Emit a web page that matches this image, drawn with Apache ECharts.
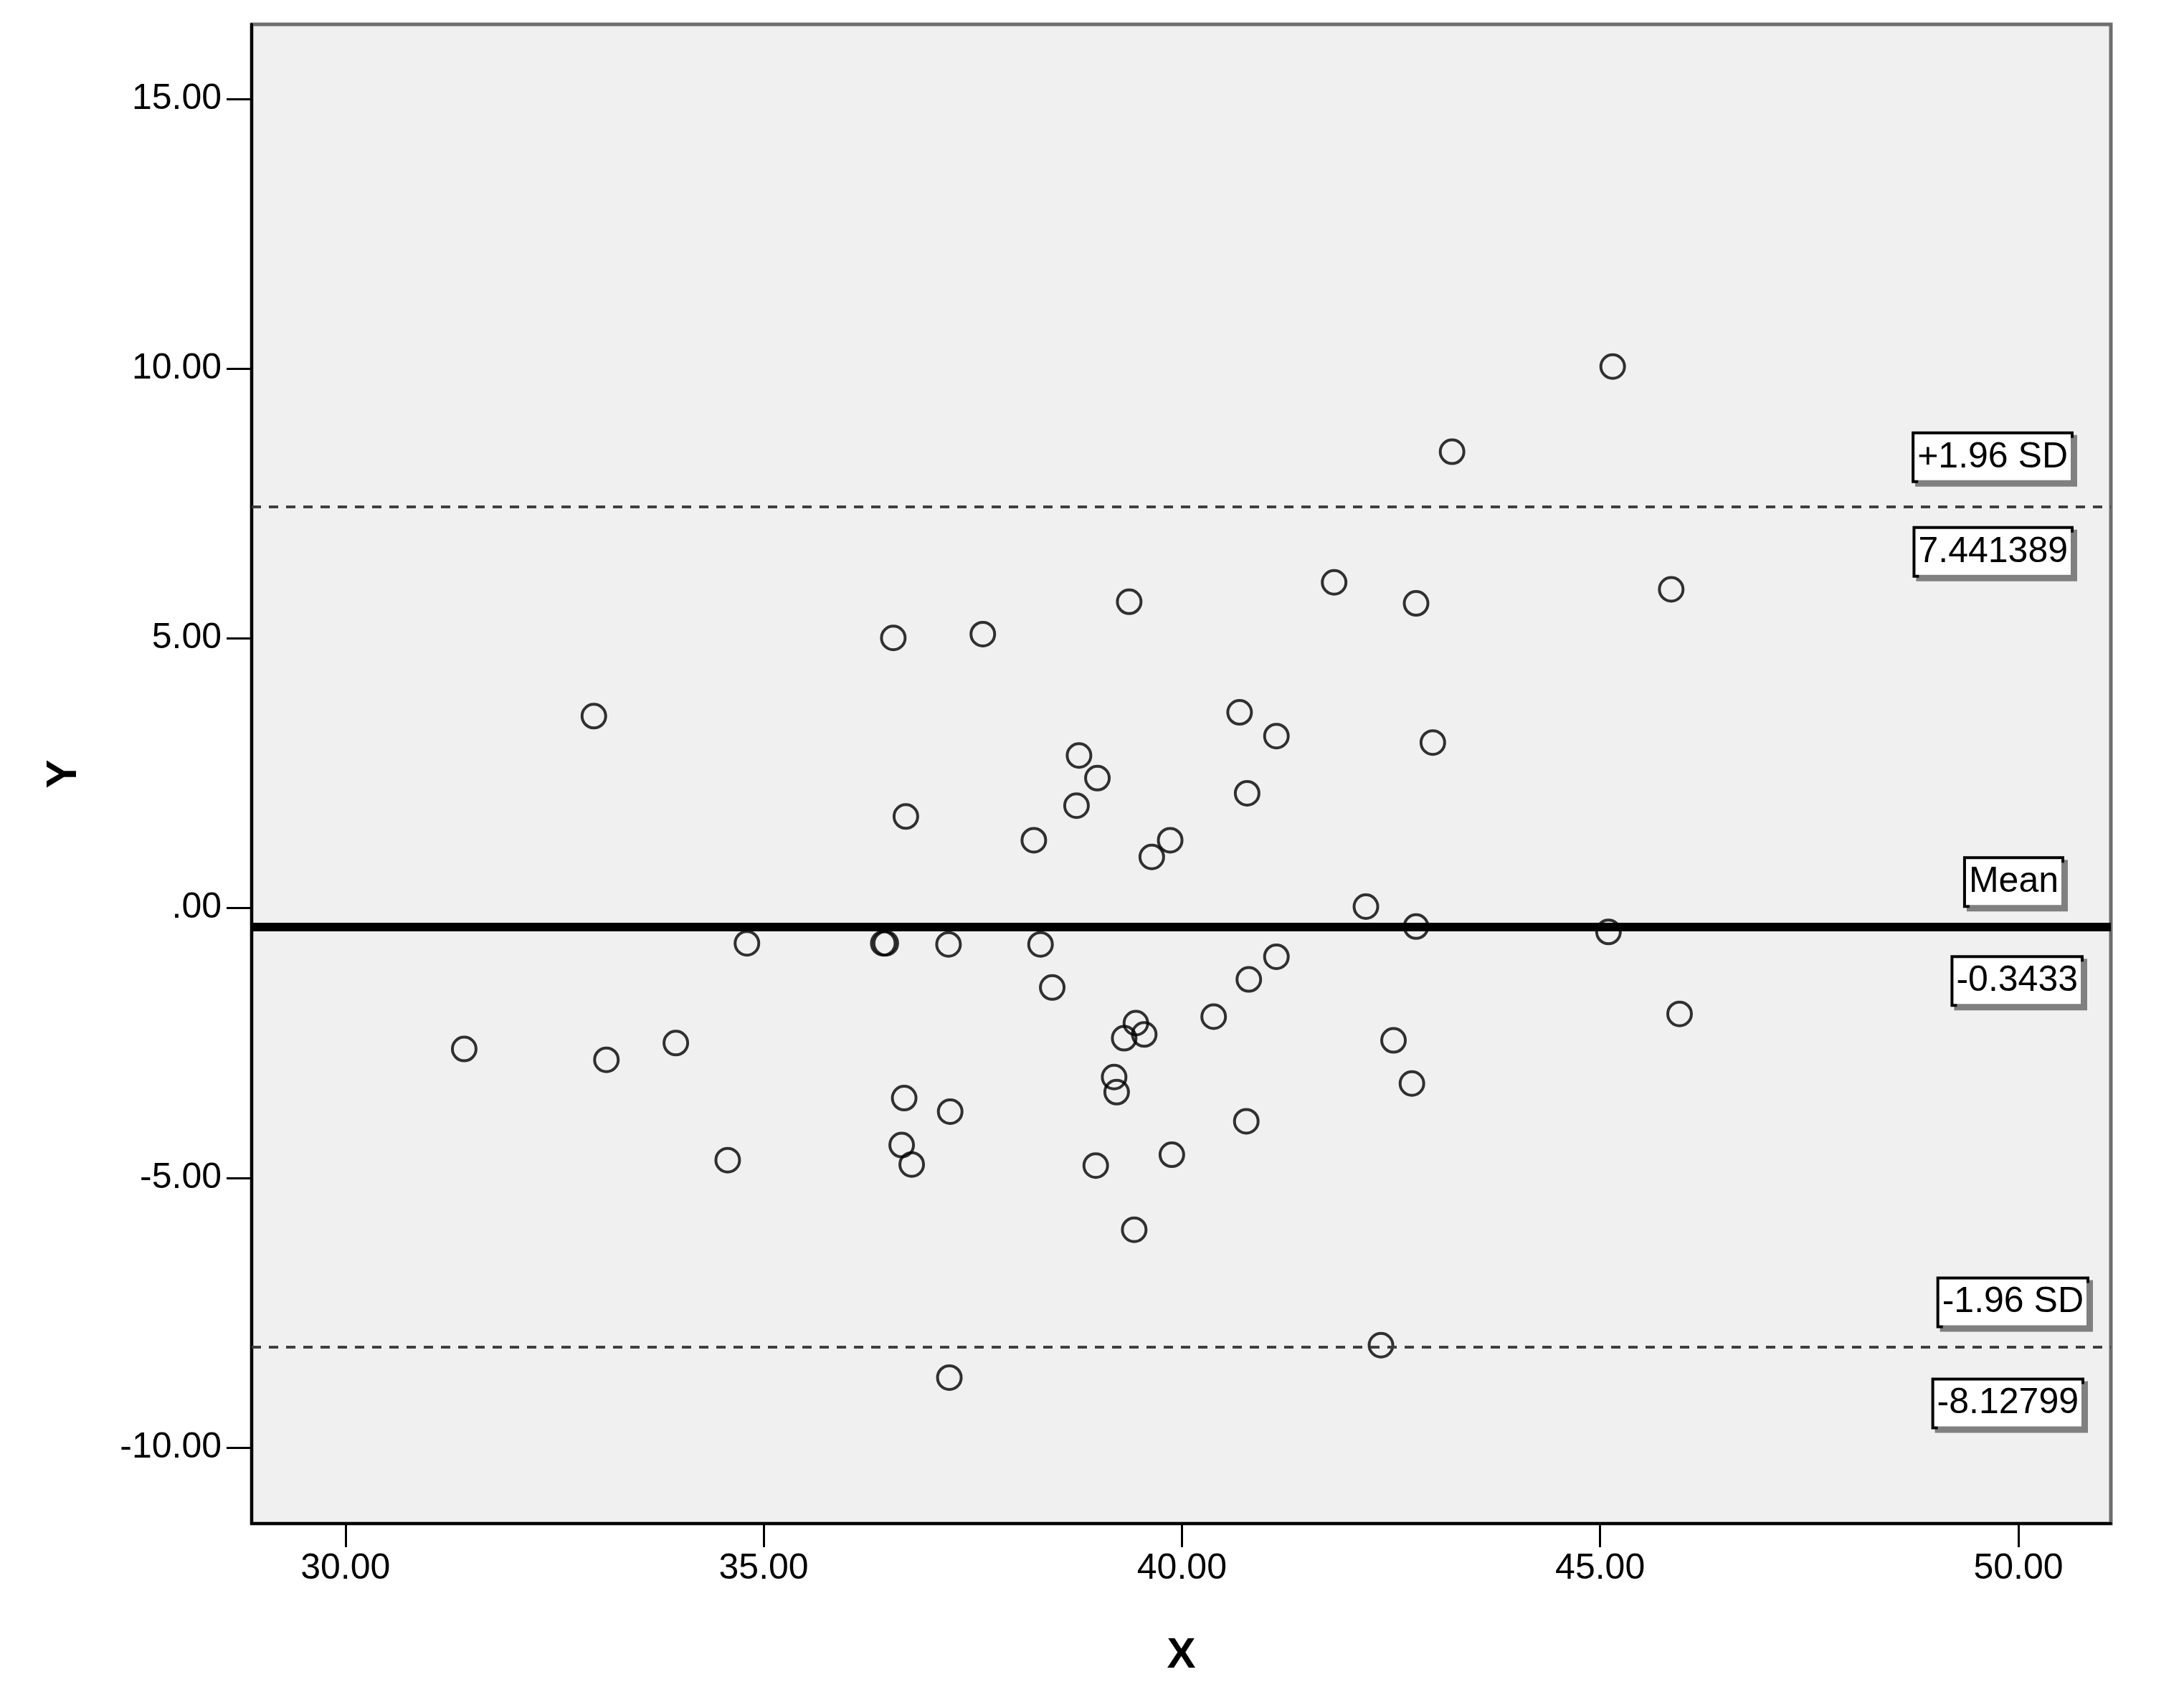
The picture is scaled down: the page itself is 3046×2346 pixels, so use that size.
<!DOCTYPE html>
<html>
<head>
<meta charset="utf-8">
<script src="https://cdn.jsdelivr.net/npm/echarts@6.0.0/dist/echarts.min.js"></script>
<style>
  html, body { margin: 0; padding: 0; background: #ffffff; }
  #bland_altman { width: 3046px; height: 2346px; }
</style>
</head>
<body>
<div id="bland_altman"></div>
<script>
// points: [X, Y]
var points = [
  [45.15, 10.04], [43.23, 8.46], [41.82, 6.04], [42.80, 5.65], [45.85, 5.91],
  [39.37, 5.68], [36.55, 5.01], [37.62, 5.08], [32.97, 3.56], [40.69, 3.63],
  [41.13, 3.19], [43.00, 3.07], [38.77, 2.83], [38.99, 2.41], [38.74, 1.90],
  [40.78, 2.13], [36.70, 1.70], [38.23, 1.26], [39.86, 1.26], [39.64, 0.95],
  [42.20, 0.03], [42.80, -0.34], [45.10, -0.44], [34.80, -0.65], [36.43, -0.65],
  [36.46, -0.65], [37.21, -0.67], [38.31, -0.67], [41.13, -0.90], [38.45, -1.47],
  [40.80, -1.32], [45.95, -1.96], [40.38, -2.01], [39.45, -2.13], [39.55, -2.34],
  [39.31, -2.41], [31.42, -2.61], [33.95, -2.50], [33.12, -2.81], [42.53, -2.45],
  [39.19, -3.13], [39.22, -3.41], [42.75, -3.25], [36.68, -3.52], [37.23, -3.77],
  [40.77, -3.95], [36.65, -4.39], [36.77, -4.75], [34.57, -4.67], [38.97, -4.77],
  [39.88, -4.57], [39.43, -5.96], [42.38, -8.10], [37.22, -8.70]
];

// reference lines: +1.96 SD, mean, -1.96 SD
var refNames = ['+1.96 SD', 'Mean', '-1.96 SD'];
var refValues = [7.441389, -0.3433, -8.12799];

var xTicks = [30, 35, 40, 45, 50];
var yTicks = [-10, -5, 0, 5, 10, 15];

var FONT = '"Liberation Sans", Arial, sans-serif';

function fmt(v) {
  var s = v.toFixed(2);
  if (v === 0) s = '.00';
  return s;
}

var dashed = { color: '#3c3c3c', width: 3.5, type: [13, 11] };
var solid = { color: '#000', width: 12, type: 'solid' };
// label offsets from the line end: [right gap, gap to line]
var topDist = [[56, 37], [69, 30], [34, 30]];
var botDist = [[56, 31], [42, 44], [41, 47]];

var refLines = [];
for (var i = 0; i < refValues.length; i++) {
  var ls = i === 1 ? solid : dashed;
  refLines.push({
    yAxis: refValues[i],
    lineStyle: ls,
    label: { position: 'insideEndTop', distance: topDist[i], formatter: refNames[i] }
  });
  refLines.push({
    yAxis: refValues[i],
    lineStyle: ls,
    label: { position: 'insideEndBottom', distance: botDist[i], formatter: String(refValues[i]) }
  });
}

var chart = echarts.init(document.getElementById('bland_altman'));

var option = {
  backgroundColor: '#ffffff',
  animation: false,
  grid: {
    left: 351,
    top: 34,
    right: 102,
    bottom: 221,
    show: true,
    backgroundColor: '#f0f0f0',
    borderColor: '#6e6e6e',
    borderWidth: 5
  },
  xAxis: {
    type: 'value',
    min: 28.879,
    max: 51.106,
    name: 'X',
    nameLocation: 'middle',
    nameGap: 154,
    nameTextStyle: { fontFamily: FONT, fontSize: 60, fontWeight: 'bold', color: '#000' },
    axisLine: { show: true, onZero: false, lineStyle: { color: '#000', width: 4 } },
    axisTick: { show: true, length: 33, customValues: xTicks, lineStyle: { color: '#000', width: 3 } },
    axisLabel: { customValues: xTicks, margin: 38, fontFamily: FONT, fontSize: 50, color: '#000', formatter: fmt },
    splitLine: { show: false }
  },
  yAxis: {
    type: 'value',
    min: -11.406,
    max: 16.382,
    name: 'Y',
    nameLocation: 'middle',
    nameGap: 232,
    nameTextStyle: { fontFamily: FONT, fontSize: 60, fontWeight: 'bold', color: '#000' },
    axisLine: { show: true, onZero: false, lineStyle: { color: '#000', width: 4 } },
    axisTick: { show: true, length: 35, customValues: yTicks, lineStyle: { color: '#000', width: 3 } },
    axisLabel: { customValues: yTicks, margin: 42, fontFamily: FONT, fontSize: 50, color: '#000', formatter: fmt },
    splitLine: { show: false }
  },
  series: [{
    type: 'scatter',
    data: points,
    symbol: 'circle',
    symbolSize: 33,
    itemStyle: { color: 'rgba(0,0,0,0)', borderColor: '#000', borderWidth: 4 },
    emphasis: { disabled: true },
    markLine: {
      silent: true,
      symbol: ['none', 'none'],
      label: {
        fontFamily: FONT,
        fontSize: 50,
        lineHeight: 52,
        color: '#000',
        backgroundColor: '#ffffff',
        borderColor: '#000',
        borderWidth: 4,
        padding: [6, 4, 6, 4],
        shadowColor: '#808080',
        shadowOffsetX: 5,
        shadowOffsetY: 5,
        shadowBlur: 0
      },
      emphasis: { disabled: true },
      data: refLines
    }
  }]
};

chart.setOption(option);
</script>
</body>
</html>
